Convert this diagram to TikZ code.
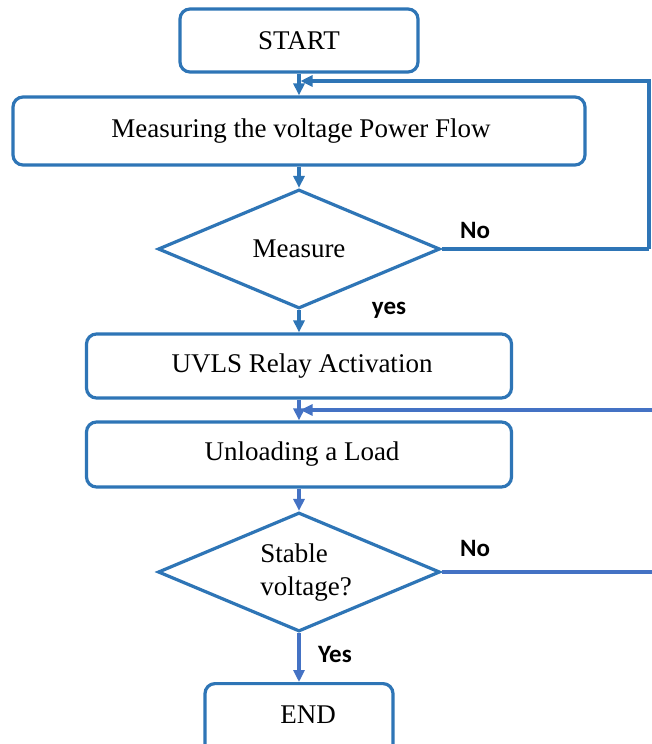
\documentclass[tikz,border=0pt]{standalone}
\usepackage{fontspec}
\setmainfont{Liberation Serif}
\newfontfamily\labfont{Carlito}
\usetikzlibrary{shapes.geometric,arrows.meta}
\definecolor{boxblue}{HTML}{2E75B6}
\definecolor{lineblue}{HTML}{4472C4}
\begin{document}
\begin{tikzpicture}[x=1bp,y=-1bp,
  procbox/.style={draw=boxblue,line width=3.2bp,rounded corners=10bp,inner sep=0pt,
    font=\fontsize{27bp}{30bp}\selectfont},
  decbox/.style={draw=boxblue,line width=3.2bp,diamond,inner sep=0pt,
    minimum width=282bp,minimum height=119bp,
    font=\fontsize{27bp}{33bp}\selectfont},
  plain/.style={inner sep=0pt,font=\fontsize{27bp}{33bp}\selectfont},
  arrA/.style={draw=boxblue,line width=3.2bp,-{Triangle[length=12bp,width=11bp]}},
  arrB/.style={draw=lineblue,line width=3.2bp,-{Triangle[length=12bp,width=11bp]}},
  lnA/.style={draw=boxblue,line width=3.2bp},
  lnB/.style={draw=lineblue,line width=3.2bp},
  lab/.style={font=\labfont\bfseries\fontsize{25bp}{28bp}\selectfont}]
\useasboundingbox (0,0) rectangle (652,744);
\fill[white] (0,0) rectangle (652,744);

\node[procbox,minimum width=238bp,minimum height=63bp] (start) at (299,40.5) {START};
\node[procbox,minimum width=572bp,minimum height=68bp] (meas) at (299,131) {\raisebox{-1.5bp}{\hspace{4bp}Measuring the voltage Power Flow}};
\node[decbox] (d1) at (299,249) {Measure};
\node[procbox,minimum width=425bp,minimum height=64bp] (uvls) at (299,366) {\raisebox{-1bp}{\hspace{6bp}UVLS Relay Activation}};
\node[procbox,minimum width=425bp,minimum height=65bp] (unl) at (299,454.5) {\hspace{6bp}Unloading a Load};
\node[decbox] (d2) at (299,572) {};
\node[plain] (d2t) at (306,572) {\begin{tabular}{@{}l@{}}Stable\\voltage?\end{tabular}};
\node[procbox,minimum width=188bp,minimum height=70bp,anchor=north] (endn) at (299,682) {\raisebox{8bp}{\hspace{18bp}END}};

\coordinate (r1) at (649,249);
\coordinate (r1t) at (649,81);
\coordinate (j1) at (299,81);
\coordinate (e1) at (654,410);
\coordinate (j2) at (299,410);
\coordinate (e2) at (654,572);

\draw[arrA] (start) -- (meas);
\draw[arrA] (meas) -- (d1);
\draw[lnA] (d1.east) -- (r1);
\draw[arrA] (r1) -- (r1t) -- ([xshift=1.5bp]j1);
\draw[arrA] (d1) -- (uvls);
\draw[arrB] (uvls) -- (unl);
\draw[arrB] (e1) -- ([xshift=1.5bp]j2);
\draw[arrB] (unl) -- (d2);
\draw[lnB] (d2.east) -- (e2);
\draw[arrB] (d2) -- (endn);

\node[lab] (no1) at (475,230) {No};
\node[lab] (yes1) at (389,310) {yes};
\node[lab] (no2) at (475,548) {No};
\node[lab] (yes2) at (335,654) {Yes};
\end{tikzpicture}
\end{document}
